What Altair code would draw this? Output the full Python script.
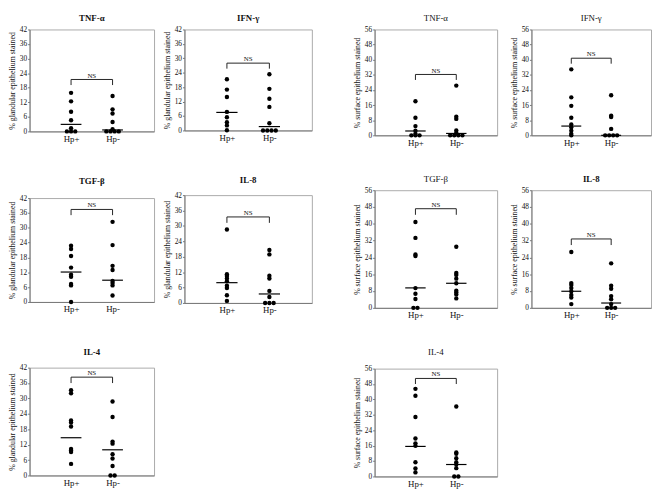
import altair as alt
import pandas as pd

GROUPS = ["Hp+", "Hp-"]
FONT = "Liberation Serif"

# ---- glandular epithelium (% stained) ----
TNF_G_POS = [15.9, 12.4, 8.1, 4.6, 1.3, 0, 0, 0]
TNF_G_NEG = [14.6, 9.1, 7.4, 3.9, 0.9, 0, 0, 0, 0]
TNF_G_MED = [2.9, 0.6]
TNF_G_NS = 21.4

IFN_G_POS = [21.3, 17.0, 13.9, 7.7, 5.5, 3.4, 2.1, 0.1]
IFN_G_NEG = [23.4, 17.3, 13.2, 9.8, 3.0, 0, 0, 0, 0]
IFN_G_MED = [7.5, 1.6]
IFN_G_NS = 28.0

TGF_G_POS = [22.7, 21.4, 18.6, 13.9, 11.0, 10.2, 7.3, 6.7, 0]
TGF_G_NEG = [32.4, 23.0, 14.6, 12.9, 8.5, 7.7, 6.7, 2.6]
TGF_G_MED = [12.1, 8.8]
TGF_G_NS = 37.4

IL8_G_POS = [28.6, 11.2, 10.5, 9.5, 8.5, 6.7, 5.8, 3.0, 0.8]
IL8_G_NEG = [20.6, 18.9, 10.6, 9.5, 4.7, 2.3, 0, 0, 0]
IL8_G_MED = [7.9, 3.5]
IL8_G_NS = 33.5

IL4_G_POS = [33.2, 32.0, 21.4, 20.6, 19.1, 10.3, 9.7, 9.1, 4.5]
IL4_G_NEG = [28.8, 22.8, 13.2, 12.4, 8.3, 6.6, 3.7, 0, 0]
IL4_G_MED = [14.7, 10.0]
IL4_G_NS = 38.3

# ---- surface epithelium (% stained) ----
TNF_S_POS = [18.0, 9.3, 4.9, 2.4, 0.8, 0, 0, 0]
TNF_S_NEG = [26.3, 9.8, 8.7, 2.6, 1.3, 0, 0, 0, 0]
TNF_S_MED = [2.3, 1.0]
TNF_S_NS = 32.2

IFN_S_POS = [34.9, 20.1, 15.6, 9.3, 5.7, 4.3, 2.4, 0.8, 0]
IFN_S_NEG = [21.2, 10.4, 9.7, 3.4, 0, 0, 0, 0]
IFN_S_MED = [4.9, 0]
IFN_S_NS = 40.8

TGF_S_POS = [40.9, 33.3, 25.4, 24.7, 9.4, 6.7, 4.2, 0, 0]
TGF_S_NEG = [29.1, 16.6, 15.7, 13.9, 11.7, 8.2, 7.3, 6.4, 4.5]
TGF_S_MED = [9.5, 11.7]
TGF_S_NS = 47.2

IL8_S_POS = [26.6, 11.8, 10.9, 9.4, 7.9, 6.1, 4.9, 1.8]
IL8_S_NEG = [21.2, 10.5, 9.1, 5.6, 4.1, 1.8, 0, 0, 0]
IL8_S_MED = [7.9, 2.3]
IL8_S_NS = 32.8

IL4_S_POS = [45.5, 41.9, 30.9, 19.7, 17.2, 15.9, 7.4, 4.1, 2.1]
IL4_S_NEG = [36.3, 12.5, 11.8, 9.5, 7.4, 6.2, 4.3, 0, 0]
IL4_S_MED = [15.6, 6.2]
IL4_S_NS = 50.9

GLAND_TICKS = [0, 6, 12, 18, 24, 30, 36, 42]
SURF_TICKS = [0, 8, 16, 24, 32, 40, 48, 56]


def points_frame(pos, neg):
    rows = []
    for gi, vals in enumerate([pos, neg]):
        for v in vals:
            rows.append({"group": gi + 1, "value": v})
    df = pd.DataFrame(rows)
    df["key"] = df["group"].astype(str) + "_" + df["value"].round(1).astype(str)
    df["n"] = df.groupby("key")["value"].transform("size")
    df["rank"] = df.groupby("key").cumcount()
    df["xpos"] = df["group"] + (df["rank"] - (df["n"] - 1) / 2) * 0.1
    return df[["xpos", "value"]]


def panel(title, kind, pos, neg, med, ns, width, height, toff, bold):
    if kind == "g":
        ymax, ticks, ytitle, drop = 42, GLAND_TICKS, "% glandular epithelium stained", 2.3
    else:
        ymax, ticks, ytitle, drop = 56, SURF_TICKS, "% surface epithelium stained", 2.9
    xs = alt.Scale(domain=[0, 3], nice=False, zero=False)
    ys = alt.Scale(domain=[0, ymax], nice=False)
    xaxis = alt.Axis(values=[1, 2], labelExpr="datum.value == 1 ? 'Hp+' : 'Hp-'",
                     title=None, grid=False, ticks=False, labelPadding=3,
                     labelFontSize=9, labelFont=FONT, labelColor="#111",
                     domainColor="#777", labelOverlap=False)
    yaxis = alt.Axis(values=ticks, title=ytitle, grid=False, tickSize=2,
                     labelFontSize=7.5, labelPadding=1, labelFont=FONT,
                     labelColor="#111", titleFont=FONT, titleFontSize=8,
                     titleFontWeight="normal", titlePadding=3, titleColor="#111",
                     domainColor="#777", tickColor="#777", labelOverlap=False,
                     labelFlush=False)

    pts = alt.Chart(points_frame(pos, neg)).mark_circle(
        size=20, color="black", opacity=1
    ).encode(
        x=alt.X("xpos:Q", scale=xs, axis=xaxis),
        y=alt.Y("value:Q", scale=ys, axis=yaxis),
    )

    med_df = pd.DataFrame({"g": [1, 2], "m": med})
    meds = alt.Chart(med_df).transform_calculate(
        a="datum.g - 0.25", b="datum.g + 0.25"
    ).mark_rule(color="black", strokeWidth=1.2).encode(
        x=alt.X("a:Q", scale=xs, axis=xaxis), x2="b:Q",
        y=alt.Y("m:Q", scale=ys, axis=yaxis)
    )

    br_df = pd.DataFrame({
        "x": [1, 1, 2], "x2": [2, 1, 2],
        "y": [ns, ns - drop, ns - drop], "y2": [ns, ns, ns],
    })
    bracket = alt.Chart(br_df).mark_rule(color="#222", strokeWidth=1).encode(
        x=alt.X("x:Q", scale=xs, axis=xaxis), x2="x2:Q",
        y=alt.Y("y:Q", scale=ys, axis=yaxis), y2="y2:Q",
    )
    ns_df = pd.DataFrame({"x": [1.5], "y": [ns], "t": ["NS"]})
    ns_text = alt.Chart(ns_df).mark_text(
        font=FONT, fontSize=7, baseline="bottom", dy=-1, color="#111"
    ).encode(x=alt.X("x:Q", scale=xs, axis=xaxis),
             y=alt.Y("y:Q", scale=ys, axis=yaxis), text="t:N")

    return alt.layer(pts, meds, bracket, ns_text).properties(
        width=width, height=height,
        title=alt.TitleParams(title, font=FONT, fontSize=9,
                              fontWeight="bold" if bold else "normal",
                              offset=toff, color="#111", anchor="middle"),
    )


col1 = alt.vconcat(
    panel("TNF-α", "g", TNF_G_POS, TNF_G_NEG, TNF_G_MED, TNF_G_NS, 127, 104, 3, True),
    panel("TGF-β", "g", TGF_G_POS, TGF_G_NEG, TGF_G_MED, TGF_G_NS, 127, 106, 8, True),
    panel("IL-4", "g", IL4_G_POS, IL4_G_NEG, IL4_G_MED, IL4_G_NS, 127, 110, 7, True),
    spacing=33,
)
col2 = alt.vconcat(
    panel("IFN-γ", "g", IFN_G_POS, IFN_G_NEG, IFN_G_MED, IFN_G_NS, 130, 103, 3, True),
    panel("IL-8", "g", IL8_G_POS, IL8_G_NEG, IL8_G_MED, IL8_G_NS, 130, 110, 6, True),
    spacing=33,
)
col3 = alt.vconcat(
    panel("TNF-α", "s", TNF_S_POS, TNF_S_NEG, TNF_S_MED, TNF_S_NS, 125, 108, 3, False),
    panel("TGF-β", "s", TGF_S_POS, TGF_S_NEG, TGF_S_MED, TGF_S_NS, 125, 120, 2, False),
    panel("IL-4", "s", IL4_S_POS, IL4_S_NEG, IL4_S_MED, IL4_S_NS, 125, 110, 8, False),
    spacing=27,
)
col4 = alt.vconcat(
    panel("IFN-γ", "s", IFN_S_POS, IFN_S_NEG, IFN_S_MED, IFN_S_NS, 122, 108, 3, False),
    panel("IL-8", "s", IL8_S_POS, IL8_S_NEG, IL8_S_MED, IL8_S_NS, 122, 120, 2, True),
    spacing=27,
)

chart = alt.hconcat(
    alt.hconcat(col1, col2, spacing=8),
    alt.hconcat(col3, col4, spacing=12),
    spacing=41,
).properties(padding=0, background="white").configure_view(
    stroke="#aaa", strokeWidth=1
)

chart.save("out.html", embed_options={"renderer": "svg", "actions": False})
